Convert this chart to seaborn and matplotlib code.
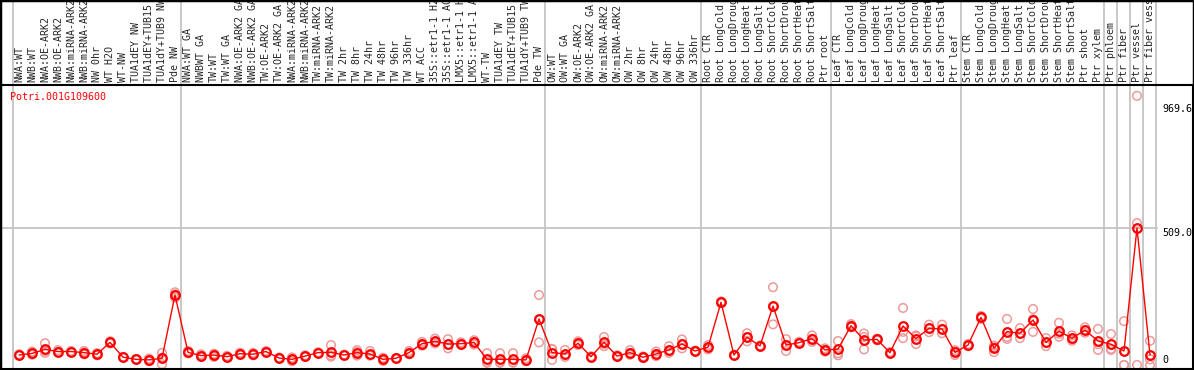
import numpy as np
import pandas as pd
import matplotlib
matplotlib.use("Agg")
import matplotlib.pyplot as plt
import seaborn as sns
from matplotlib.patches import Rectangle
import matplotlib.transforms as mtransforms

# sample names (x axis, written at the top)
samples = [
    "NWA:WT", "NWB:WT", "NWA:OE-ARK2", "NWB:OE-ARK2", "NWA:miRNA-ARK2", "NWB:miRNA-ARK2",
    "NW 0hr", "WT H2O", "WT-NW", "TUA1dEY NW", "TUA1dEY+TUB15 NW", "TUA1dY+TUB9 NW", "Pde NW",
    "NWA:WT GA", "NWBWT GA", "TW:WT", "TW:WT GA", "NWA:OE-ARK2 GA", "NWB:OE-ARK2 GA",
    "TW:OE-ARK2", "TW:OE-ARK2 GA", "NWA:miRNA-ARK2", "NWB:miRNA-ARK2", "TW:miRNA-ARK2",
    "TW:miRNA-ARK2", "TW 2hr", "TW 8hr", "TW 24hr", "TW 48hr", "TW 96hr", "TW 336hr",
    "WT ACC", "35S::etr1-1 H2O", "35S::etr1-1 ACC", "LMX5::etr1-1 H2O", "LMX5::etr1-1 ACC",
    "WT-TW", "TUA1dEY TW", "TUA1dEY+TUB15 TW", "TUA1dY+TUB9 TW", "Pde TW",
    "OW:WT", "OW:WT GA", "OW:OE-ARK2", "OW:OE-ARK2 GA", "OW:miRNA-ARK2", "OW:miRNA-ARK2",
    "OW 2hr", "OW 8hr", "OW 24hr", "OW 48hr", "OW 96hr", "OW 336hr",
    "Root CTR", "Root LongCold", "Root LongDrought", "Root LongHeat", "Root LongSalt",
    "Root ShortCold", "Root ShortDrought", "Root ShortHeat", "Root ShortSalt", "Ptr root",
    "Leaf CTR", "Leaf LongCold", "Leaf LongDrought", "Leaf LongHeat", "Leaf LongSalt",
    "Leaf ShortCold", "Leaf ShortDrought", "Leaf ShortHeat", "Leaf ShortSalt", "Ptr leaf",
    "Stem CTR", "Stem LongCold", "Stem LongDrought", "Stem LongHeat", "Stem LongSalt",
    "Stem ShortCold", "Stem ShortDrought", "Stem ShortHeat", "Stem ShortSalt", "Ptr shoot",
    "Ptr xylem", "Ptr phloem", "Ptr fiber", "Ptr vessel", "Ptr fiber vessel",
]

# mean expression per sample
means = [37, 43, 58, 50, 50, 46, 40, 84, 29, 21, 19, 25, 260,
         47, 35, 37, 31, 42, 40, 50, 26, 21, 33, 46, 47, 37, 46, 41, 21, 25, 46, 79, 88, 78,
         79, 84, 21, 21, 21, 19, 171,
         46, 41, 81, 31, 84, 33, 46, 29, 41, 56, 78, 52,
         66, 233, 37, 103, 71, 219, 74, 83, 98, 56,
         59, 146, 93, 95, 46, 145, 98, 136, 134, 47,
         74, 177, 62, 124, 118, 167, 84, 126, 99, 130, 89,
         77, 52, 509, 37]

# replicates
rep1 = [35, 38, 81, 48, 50, 40, 36, 88, 29, 20, 14, 3, 270,
        52, 40, 30, 28, 38, 36, 48, 24, 14, 30, 45, 74, 36, 55, 52, 15, 24, 40, 72, 80, 96,
        75, 92, 44, 44, 44, 25, 260,
        59, 56, 88, 30, 104, 30, 55, 26, 50, 70, 95, 50,
        58, 236, 36, 118, 70, 289, 96, 86, 110, 50,
        89, 140, 104, 98, 44, 212, 110, 150, 150, 55,
        70, 182, 48, 171, 137, 208, 100, 157, 110, 140, 134,
        115, 163, 1000, 90]
rep2 = [40, 50, 52, 55, 52, 52, 44, 80, 30, 22, 24, 45, 250,
        43, 30, 42, 34, 46, 45, 52, 28, 28, 36, 47, 31, 38, 35, 35, 27, 26, 52, 86, 98, 62,
        84, 76, 8, 8, 10, 14, 84,
        19, 30, 74, 32, 78, 36, 38, 32, 33, 45, 62, 54,
        74, 230, 38, 88, 72, 151, 52, 80, 86, 62,
        44, 152, 58, 92, 48, 100, 78, 122, 118, 37,
        78, 172, 72, 97, 100, 123, 70, 105, 90, 120, 56,
        56, 0, 527, 0]
rep3 = [36, 42, 45, 47, 48, 46, 40, 84, 28, 21, 19, 27, 262,
        46, 35, 39, 31, 42, 39, 50, 26, 21, 33, 46, 36, 37, 48, 36, 21, 25, 46, 79, 86, 76,
        78, 84, 11, 11, 9, 18, 169,
        60, 37, 81, 31, 70, 33, 45, 29, 40, 53, 77, 52,
        66, 233, 37, 103, 71, 217, 74, 83, 98, 56,
        36, 146, 117, 95, 46, 123, 106, 136, 134, 49,
        74, 177, 66, 104, 117, 170, 82, 116, 97, 130, 77,
        60, 0, 0, 21]

gene = "Potri.001G109600"
y_ticks = [969.6, 509.0, 0]
y_tick_text = ["969.6", "509.0", "0"]
group_edges = [-0.5, 12.5, 40.5, 52.5, 62.5, 72.5, 83.5, 84.5, 85.5, 86.5, 87.5]

W, H = 1194, 370
sns.set_style("white")
plt.rcParams["font.family"] = ["DejaVu Sans Mono"]

fig = plt.figure(figsize=(W / 100, H / 100), dpi=100)
top_px, bot_px = 85, 369
ax = fig.add_axes([0, (H - bot_px) / H, 1193 / W, (bot_px - top_px) / H])

x = np.arange(len(samples))
df = pd.DataFrame({"x": x, "mean": means})
reps = pd.DataFrame({"x": np.concatenate([x, x, x]),
                     "value": rep1 + rep2 + rep3})

# pixel mapping: sample i at 19 + 13*i px, value 0 at 365 px, 3.715 units/px
ax.set_xlim(-19 / 13, (1193 - 19) / 13)
ax.set_ylim((365 - bot_px) * 3.715, (365 - top_px) * 3.715)

for b in group_edges:
    ax.axvline(b, ymin=0, ymax=1 + top_px / (bot_px - top_px), clip_on=False,
               color="#c4c4c4", lw=1.3, zorder=0)
ax.axhline(509.0, xmin=0, xmax=1157 / 1193, color="#c4c4c4", lw=1.3, zorder=0)

sns.scatterplot(data=reps, x="x", y="value", ax=ax, marker="o", s=38,
                facecolors="none", edgecolors="#ee9a9a", linewidths=1.1, zorder=2)
sns.lineplot(data=df, x="x", y="mean", ax=ax, color="red", lw=1.0,
             marker="o", markersize=6.2, markerfacecolor="none",
             markeredgecolor="red", markeredgewidth=1.6, zorder=3)

ax.xaxis.tick_top()
ax.set_xticks(x)
ax.set_xticklabels(samples, rotation=90, fontsize=7.2, va="bottom", ha="center")
ax.tick_params(axis="x", length=0, pad=2)
ax.set_yticks([])
ax.set_xlabel("")
ax.set_ylabel("")
for s in ax.spines.values():
    s.set_color("black")
    s.set_linewidth(1.5)

trans = mtransforms.blended_transform_factory(ax.transAxes, ax.transData)
for v, t in zip(y_ticks, y_tick_text):
    ax.text(1162 / 1193, v, t, transform=trans, fontsize=7.2,
            va="bottom" if v == 0 else "top", ha="left", color="black")

ax.text(10 / 1193, 1 - 7 / (bot_px - top_px), gene, transform=ax.transAxes,
        fontsize=7.2, color="red", va="top", ha="left")

fig.patches.append(Rectangle((0, 0), 1, 1, transform=fig.transFigure,
                             fill=False, edgecolor="black", lw=2.5))

fig.savefig("out.png", dpi=100)
